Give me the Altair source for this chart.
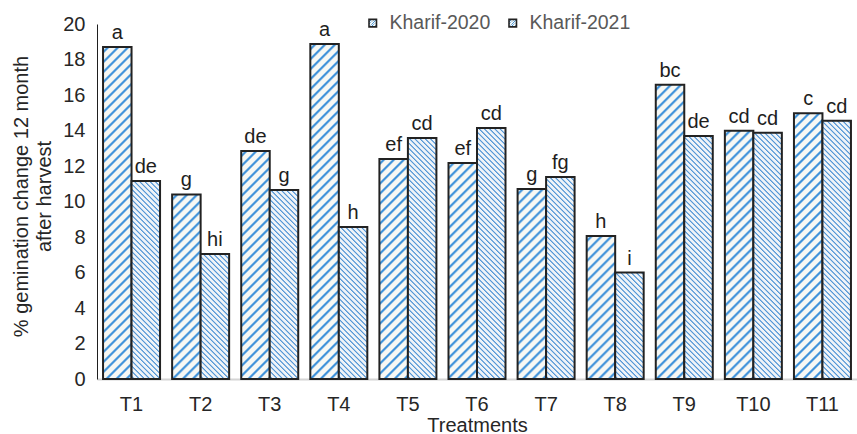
import altair as alt
import numpy as np
import pandas as pd

# ---- data -------------------------------------------------------------
treatments = ["T1", "T2", "T3", "T4", "T5", "T6", "T7", "T8", "T9", "T10", "T11"]
seasons = ["Kharif-2020", "Kharif-2021"]
kharif_2020 = [18.70, 10.40, 12.85, 18.87, 12.40, 12.17, 10.70, 8.06, 16.58, 13.99, 14.97]
kharif_2021 = [11.15, 7.04, 10.65, 8.56, 13.58, 14.14, 11.38, 6.00, 13.69, 13.88, 14.55]
letters_2020 = ["a", "g", "de", "a", "ef", "ef", "g", "h", "bc", "cd", "c"]
letters_2021 = ["de", "hi", "g", "h", "cd", "cd", "fg", "i", "de", "cd", "cd"]

rows = []
for t, v0, v1, l0, l1 in zip(treatments, kharif_2020, kharif_2021, letters_2020, letters_2021):
    rows.append({"treatment": t, "season": seasons[0], "value": v0, "letter": l0})
    rows.append({"treatment": t, "season": seasons[1], "value": v1, "letter": l1})
df = pd.DataFrame(rows)

# ---- geometry of the plot area ----------------------------------------
PLOT_W, PLOT_H, Y_MAX = 760, 355, 20
PAD_INNER = 0.175
STEP = PLOT_W / len(treatments)
BAR_W = STEP * (1 - PAD_INNER) / 2
FONT = "Liberation Sans"
TEXT = "#262626"

# hatch style per season: (direction, period in px, ink, paper)
HATCH = {
    seasons[0]: ("up", 10.0, "#4193da", "#f7f8f4"),
    seasons[1]: ("down", 5.2, "#5597d6", "#f0f4f8"),
}


def stripe_fill(value, season):
    """Diagonal stripes as a linear gradient in the bar's bounding box."""
    direction, period, ink, paper = HATCH[season]
    w = BAR_W
    h = max(value * PLOT_H / Y_MAX, 1.0)
    span = w + h
    k = span / (w * w + h * h)
    a, b = w * k, h * k
    if direction == "up":
        x1, y1, x2, y2 = 0.0, 0.0, a, b
    else:
        x1, y1, x2, y2 = 0.0, 1.0, a, 1.0 - b
    profile = [(0.0, paper), (0.28, paper), (0.46, ink), (0.58, ink), (0.78, paper)]
    stops = []
    last = -1.0
    for i in range(int(np.ceil(span / period)) + 1):
        for phase, col in profile:
            off = round((i + phase) * period / span, 5)
            if last <= off <= 1.0:
                stops.append(alt.GradientStop(offset=off, color=col))
                last = off
    return alt.LinearGradient(
        gradient="linear", stops=stops,
        x1=round(x1, 5), y1=round(y1, 5), x2=round(x2, 5), y2=round(y2, 5),
    )


# ---- shared encodings -------------------------------------------------
x_enc = alt.X(
    "treatment:N",
    sort=treatments,
    scale=alt.Scale(domain=treatments, paddingInner=PAD_INNER, paddingOuter=PAD_INNER / 2),
    axis=alt.Axis(
        title="Treatments", labelAngle=0, ticks=False,
        labelFont=FONT, labelFontSize=20, labelColor=TEXT, labelPadding=15,
        titleFont=FONT, titleFontSize=20, titleFontWeight="normal", titleColor=TEXT,
        titleX=PLOT_W / 2, titleY=36, titleBaseline="top",
        domainColor="#d4d4d4", domainWidth=2,
    ),
)
xoff_enc = alt.XOffset("season:N", scale=alt.Scale(domain=seasons, paddingInner=0, paddingOuter=0))
y_enc = alt.Y(
    "value:Q",
    scale=alt.Scale(domain=[0, Y_MAX], nice=False),
    axis=alt.Axis(
        title=["% gemination change 12 month", "after harvest"],
        values=list(range(0, Y_MAX + 1, 2)), ticks=False, grid=False,
        labelFont=FONT, labelFontSize=20, labelColor=TEXT, labelPadding=12,
        titleFont=FONT, titleFontSize=20, titleFontWeight="normal", titleColor=TEXT,
        titleAngle=-90, titleX=-76, titleY=172, titleAlign="center",
        titleBaseline="middle", titleLineHeight=23,
        domainColor="#1f1f1f", domainWidth=1,
    ),
)
stroke_enc = alt.Stroke(
    "season:N",
    scale=alt.Scale(domain=seasons, range=["#222222", "#222222"]),
    legend=alt.Legend(
        title=None, orient="none", direction="horizontal",
        legendX=266, legendY=-11, padding=0,
        symbolType="square", symbolSize=56, symbolFillColor="#5f9fda",
        symbolStrokeWidth=1.6, symbolOpacity=1,
        labelFont=FONT, labelFontSize=19.5, labelColor="#595959",
        labelOffset=7, columnPadding=12,
    ),
)

# ---- one bar layer per bar, each with its own hatch --------------------
bar_layers = []
for i in range(len(df)):
    row = df.iloc[[i]]
    bar_layers.append(
        alt.Chart(row)
        .mark_bar(fill=stripe_fill(float(row["value"].iloc[0]), row["season"].iloc[0]),
                  strokeWidth=2, strokeJoin="miter")
        .encode(x=x_enc, xOffset=xoff_enc, y=y_enc, stroke=stroke_enc)
    )

letters = (
    alt.Chart(df)
    .mark_text(font=FONT, fontSize=20, color="#1e1e1e", baseline="alphabetic", dy=-8)
    .encode(x=x_enc, xOffset=xoff_enc, y=y_enc, text="letter:N")
)

chart = (
    alt.layer(*bar_layers, letters)
    .properties(
        width=PLOT_W, height=PLOT_H,
        padding={"left": 97, "top": 24, "right": 0, "bottom": 55},
        autosize=alt.AutoSizeParams(type="none"),
        background="white",
    )
    .configure_view(stroke=None)
)

chart.save("out.html", embed_options={"renderer": "svg", "actions": False})
